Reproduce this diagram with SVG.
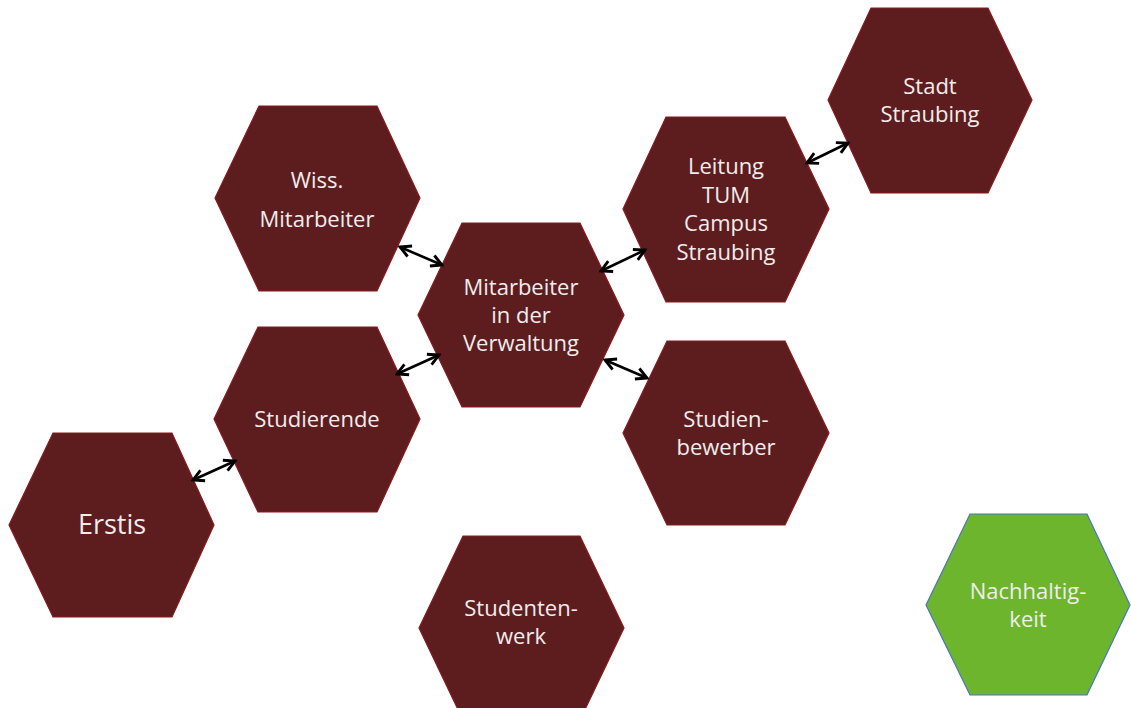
<svg xmlns="http://www.w3.org/2000/svg" width="1131" height="708" viewBox="0 0 1131 708">
<style>
.hex{fill:#5d1d1f;stroke:#8a1a1c;stroke-width:1.2}
.green{fill:#6cb52c;stroke:#4a74c4;stroke-width:1.2}
text{font-family:"Open Sans","Liberation Sans",sans-serif;font-size:22px;fill:#f2ecec;text-anchor:middle}
.big{font-size:27px}
.conn{stroke:#000;stroke-width:2.6;fill:none;marker-start:url(#ah);marker-end:url(#ah)}
</style>
<defs>
<marker id="ah" viewBox="0 0 10 10" refX="8.5" refY="5" markerWidth="5.5" markerHeight="5.5" orient="auto-start-reverse" markerUnits="strokeWidth">
<path d="M1,1 L8.5,5 L1,9" fill="none" stroke="#000" stroke-width="2" stroke-linejoin="miter"/>
</marker>
</defs>
<rect width="1131" height="708" fill="#fff"/>
<g id="erstis"><polygon class="hex" points="9,525 53,433 172,433 214,525 172,617 53,617"/><text class="big" x="112" y="534">Erstis</text></g>
<g id="studierende"><polygon class="hex" points="214,419 258,327 377,327 420,419 377,512 258,512"/><text x="317" y="427">Studierende</text></g>
<g id="wiss"><polygon class="hex" points="215,198 259,106 377,106 420,198 377,291 259,291"/><text x="317" y="188">Wiss.</text><text x="317" y="227">Mitarbeiter</text></g>
<g id="verwaltung"><polygon class="hex" points="418,315 462,223 580,223 624,315 580,407 462,407"/><text x="521" y="295">Mitarbeiter</text><text x="521" y="323">in der</text><text x="521" y="351">Verwaltung</text></g>
<g id="leitung"><polygon class="hex" points="623,209 666,117 785,117 829,209 785,302 666,302"/><text x="726" y="174">Leitung</text><text x="726" y="203">TUM</text><text x="726" y="231">Campus</text><text x="726" y="260">Straubing</text></g>
<g id="stadt"><polygon class="hex" points="828,100 871,8 988,8 1032,100 988,193 871,193"/><text x="930" y="94">Stadt</text><text x="930" y="122">Straubing</text></g>
<g id="bewerber"><polygon class="hex" points="623,433 667,341 785,341 829,433 785,525 667,525"/><text x="726" y="427">Studien-</text><text x="726" y="455">bewerber</text></g>
<g id="studentenwerk"><polygon class="hex" points="419,628 463,536 580,536 624,628 580,720 463,720"/><text x="521" y="616">Studenten-</text><text x="521" y="644">werk</text></g>
<g id="nachhaltigkeit"><polygon class="green" points="926,605 970,514 1087,514 1130,605 1087,695 970,695"/><text x="1028" y="599">Nachhaltig-</text><text x="1028" y="627">keit</text></g>
<g id="connectors">
<line class="conn" x1="193" y1="480" x2="235" y2="461"/>
<line class="conn" x1="397" y1="374" x2="439" y2="355"/>
<line class="conn" x1="400" y1="247" x2="442" y2="265"/>
<line class="conn" x1="601" y1="271" x2="645" y2="250"/>
<line class="conn" x1="605" y1="360" x2="647" y2="378"/>
<line class="conn" x1="807" y1="163" x2="848" y2="143"/>
</g>
</svg>
